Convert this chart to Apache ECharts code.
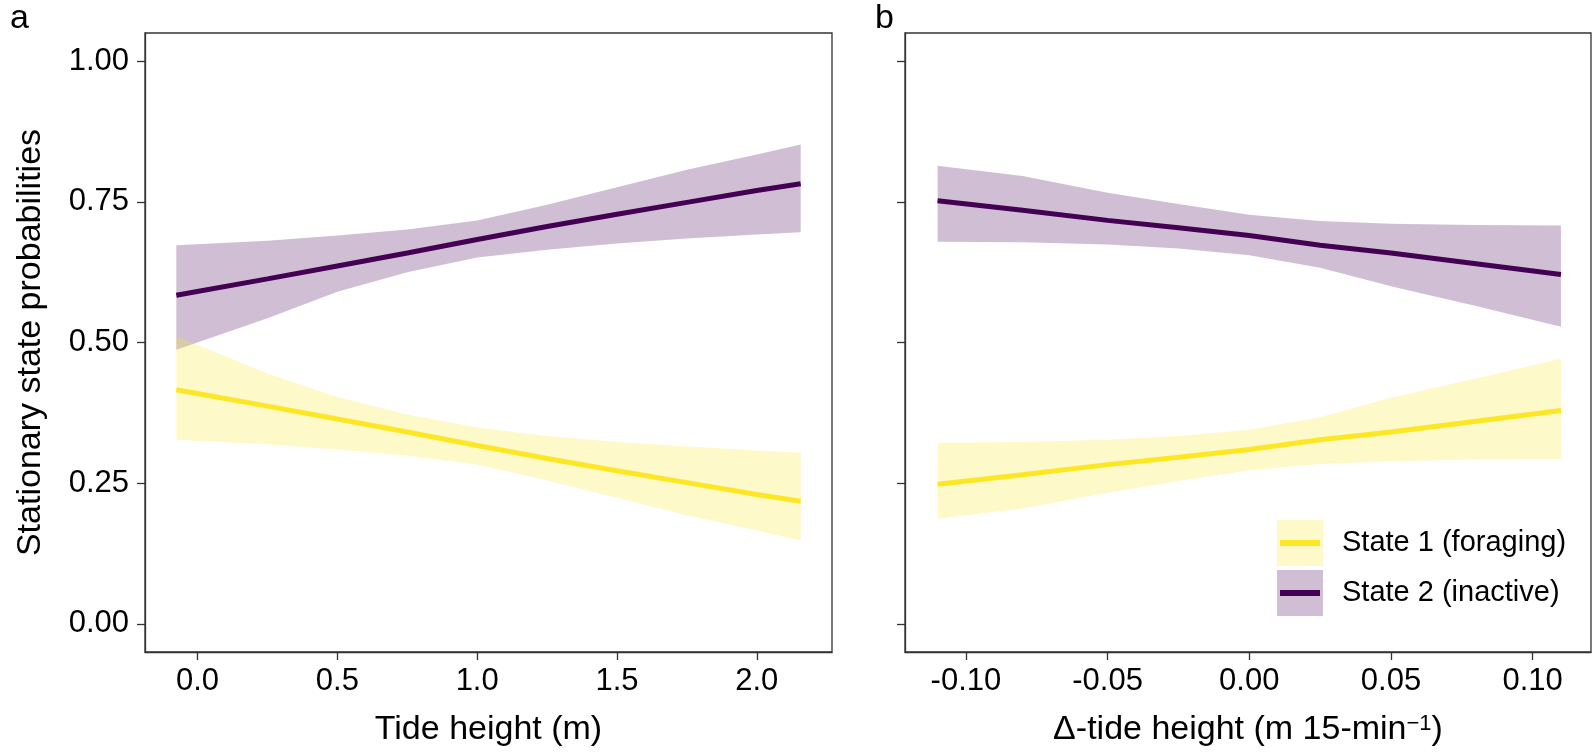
<!DOCTYPE html>
<html><head><meta charset="utf-8">
<script src="https://cdn.jsdelivr.net/npm/echarts@6.0.0/dist/echarts.min.js"></script>
<style>html,body{margin:0;padding:0;background:#fff}#c{width:1594px;height:752px}</style>
</head><body><div id="c"></div><script>
// ---- Data ----
const yTicks = [0, 0.25, 0.5, 0.75, 1.0];
const xTicksA = [0, 0.5, 1.0, 1.5, 2.0];
const xTicksB = [-0.10, -0.05, 0, 0.05, 0.10];

// Panel a: tide height (m)
const xA = [-0.076, 0.25, 0.5, 0.75, 1.0, 1.25, 1.5, 1.75, 2.0, 2.157];
const s1LineA  = [0.416, 0.387, 0.364, 0.341, 0.317, 0.294, 0.272, 0.251, 0.230, 0.218];
const s1UpperA = [0.511, 0.445, 0.403, 0.372, 0.349, 0.334, 0.323, 0.315, 0.308, 0.304];
const s1LowerA = [0.327, 0.319, 0.310, 0.299, 0.283, 0.255, 0.224, 0.193, 0.166, 0.148];
const s2LineA  = [0.584, 0.613, 0.636, 0.659, 0.683, 0.706, 0.728, 0.749, 0.770, 0.782];
const s2UpperA = [0.673, 0.681, 0.690, 0.701, 0.717, 0.745, 0.776, 0.807, 0.834, 0.852];
const s2LowerA = [0.487, 0.543, 0.590, 0.625, 0.651, 0.665, 0.676, 0.685, 0.692, 0.696];

// Panel b: delta-tide height (m 15-min^-1)
const xB = [-0.11, -0.08, -0.05, -0.025, 0, 0.025, 0.05, 0.08, 0.11];
const s1LineB  = [0.248, 0.265, 0.283, 0.296, 0.310, 0.327, 0.341, 0.360, 0.379];
const s1UpperB = [0.322, 0.323, 0.327, 0.334, 0.345, 0.367, 0.402, 0.436, 0.471];
const s1LowerB = [0.187, 0.205, 0.233, 0.254, 0.273, 0.284, 0.289, 0.292, 0.293];
const s2LineB  = [0.752, 0.735, 0.717, 0.704, 0.690, 0.673, 0.659, 0.640, 0.621];
const s2UpperB = [0.814, 0.796, 0.766, 0.746, 0.727, 0.716, 0.711, 0.709, 0.708];
const s2LowerB = [0.679, 0.678, 0.674, 0.667, 0.655, 0.633, 0.600, 0.565, 0.528];

const name1 = 'State 1 (foraging)';
const name2 = 'State 2 (inactive)';
const xTitleA = 'Tide height (m)';
const xTitleB = 'Δ-tide height (m 15-min{sup|−1})';
const yTitle = 'Stationary state probabilities';

// ---- Style ----
const FONT = "'Liberation Sans', Arial, Helvetica, sans-serif";
const C1 = '#FDE725', C2 = '#440154';
const F1 = 'rgba(253,231,37,0.25)', F2 = 'rgba(68,1,84,0.25)';
const AX = '#333333';

function pairs(xs, ys) { return xs.map((x, i) => [x, ys[i]]); }
function band(name, idx, xs, lo, hi, color) {
  return { type: 'custom', name: name, xAxisIndex: idx, yAxisIndex: idx,
    data: xs.map((x, i) => [x, lo[i], hi[i]]),
    encode: { x: 0, y: [1, 2] },
    itemStyle: { color: color },
    silent: true, z: 1,
    renderItem: function (params, api) {
      if (params.dataIndexInside !== 0) return null;
      const pts = [];
      for (let i = 0; i < xs.length; i++) pts.push(api.coord([xs[i], hi[i]]));
      for (let i = xs.length - 1; i >= 0; i--) pts.push(api.coord([xs[i], lo[i]]));
      return { type: 'polygon', shape: { points: pts }, style: { fill: color, stroke: null } };
    } };
}
function line(name, idx, xs, ys, color) {
  return { type: 'line', name: name, xAxisIndex: idx, yAxisIndex: idx, data: pairs(xs, ys),
    symbol: 'none', lineStyle: { color: color, width: 5 }, itemStyle: { color: color },
    silent: true, z: 3 };
}

const tick = { show: true, length: 8, lineStyle: { color: AX, width: 1.3 } };
function xAxis(idx, min, max, ticks, dec, title) {
  return { type: 'value', gridIndex: idx, min: min, max: max,
    axisLine: { show: true, onZero: false, lineStyle: { color: AX, width: 1.3 } }, splitLine: { show: false },
    axisTick: Object.assign({ customValues: ticks }, tick),
    axisLabel: { customValues: ticks, fontSize: 31, color: '#000', fontFamily: FONT, margin: 14,
      formatter: v => v.toFixed(dec) },
    name: title, nameLocation: 'middle', nameGap: 61,
    nameTextStyle: { fontSize: 34, color: '#000', fontFamily: FONT,
      rich: { sup: { fontSize: 22, color: '#000', fontFamily: FONT, verticalAlign: 'top', lineHeight: 14 } } } };
}
function yAxis(idx, showLabel) {
  return { type: 'value', gridIndex: idx, min: -0.05, max: 1.05,
    axisLine: { show: true, onZero: false, lineStyle: { color: AX, width: 1.3 } }, splitLine: { show: false },
    axisTick: Object.assign({ customValues: yTicks }, tick),
    axisLabel: { show: showLabel, customValues: yTicks, fontSize: 31, color: '#000', fontFamily: FONT, margin: 16,
      formatter: v => v.toFixed(2) },
    name: showLabel ? yTitle : '', nameLocation: 'middle', nameGap: 97,
    nameTextStyle: { fontSize: 34, color: '#000', fontFamily: FONT } };
}

const option = {
  animation: false,
  backgroundColor: '#fff',
  textStyle: { fontFamily: FONT },
  grid: [
    { left: 145, top: 33, width: 687, height: 619, show: true, borderColor: AX, borderWidth: 1.3, backgroundColor: 'transparent' },
    { left: 905, top: 33, width: 686, height: 619, show: true, borderColor: AX, borderWidth: 1.3, backgroundColor: 'transparent' }
  ],
  xAxis: [ xAxis(0, -0.188, 2.269, xTicksA, 1, xTitleA), xAxis(1, -0.1215, 0.1206, xTicksB, 2, xTitleB) ],
  yAxis: [ yAxis(0, true), yAxis(1, false) ],
  legend: [
    { orient: 'vertical', left: 1277, top: 520, padding: 0, itemGap: 4, itemWidth: 46, itemHeight: 46,
      selectedMode: false,
      textStyle: { fontSize: 29, color: '#000', fontFamily: FONT, padding: [0, 0, 0, 14] },
      data: [ { name: name1, icon: 'rect', itemStyle: { color: F1, borderWidth: 0 } },
              { name: name2, icon: 'rect', itemStyle: { color: F2, borderWidth: 0 } } ] },
    { orient: 'vertical', left: 1280, top: 540, padding: 0, itemGap: 44, itemWidth: 40, itemHeight: 6,
      selectedMode: false, formatter: () => '',
      textStyle: { fontSize: 6, lineHeight: 6 },
      data: [ { name: 'State 1 line', icon: 'rect', itemStyle: { color: C1, borderWidth: 0 } },
              { name: 'State 2 line', icon: 'rect', itemStyle: { color: C2, borderWidth: 0 } } ] }
  ],
  graphic: [
    { type: 'text', left: 10, top: 2, style: { text: 'a', fontSize: 34, fill: '#000', fontFamily: FONT } },
    { type: 'text', left: 875, top: 2, style: { text: 'b', fontSize: 34, fill: '#000', fontFamily: FONT } }
  ],
  series: [
    band(name2, 0, xA, s2LowerA, s2UpperA, F2),
    band(name1, 0, xA, s1LowerA, s1UpperA, F1),
    band(name2, 1, xB, s2LowerB, s2UpperB, F2),
    band(name1, 1, xB, s1LowerB, s1UpperB, F1),
    line('State 2 line', 0, xA, s2LineA, C2), line('State 1 line', 0, xA, s1LineA, C1),
    line('State 2 line', 1, xB, s2LineB, C2), line('State 1 line', 1, xB, s1LineB, C1)
  ]
};
const chart = echarts.init(document.getElementById('c'), null, { renderer: 'canvas' });
chart.setOption(option);
</script></body></html>
